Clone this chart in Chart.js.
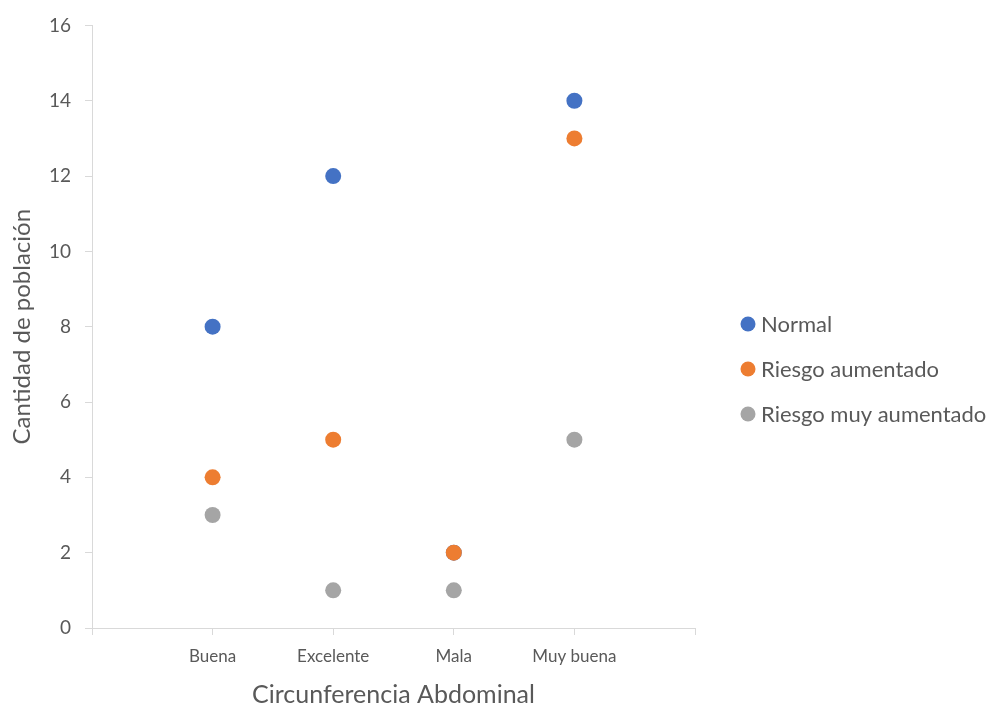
<!DOCTYPE html>
<html>
<head>
<meta charset="utf-8">
<script src="https://cdn.jsdelivr.net/npm/chart.js@4.4.0/dist/chart.umd.min.js"></script>
<style>
html,body{margin:0;padding:0;background:#fff;}
#wrap{position:relative;width:992px;height:707px;}
</style>
</head>
<body>
<div id="wrap"><canvas id="c" width="992" height="707"></canvas></div>
<script>
const categories = ["Buena", "Excelente", "Mala", "Muy buena"];
const seriesNames = ["Normal", "Riesgo aumentado", "Riesgo muy aumentado"];
const normalValues = [8, 12, 2, 14];
const riesgoAumentadoValues = [4, 5, 2, 13];
const riesgoMuyAumentadoValues = [3, 1, 1, 5];
const colors = ["#4472C4", "#ED7D31", "#A5A5A5"];
const yTicks = [0, 2, 4, 6, 8, 10, 12, 14, 16];

const FONT = "Lato, 'Open Sans', sans-serif";
const allValues = [normalValues, riesgoAumentadoValues, riesgoMuyAumentadoValues];

const datasets = allValues.map((vals, i) => ({
  label: seriesNames[i],
  data: vals.map((v, j) => ({x: j + 1, y: v})),
  backgroundColor: colors[i],
  borderColor: colors[i],
  pointRadius: 8,
  pointHoverRadius: 8,
  pointBorderWidth: 0,
  order: 3 - i
}));

const legendPlugin = {
  id: 'customLegend',
  afterDraw(chart) {
    const ctx = chart.ctx;
    ctx.save();
    const rows = [324, 369, 414];
    seriesNames.forEach((name, i) => {
      ctx.beginPath();
      ctx.fillStyle = colors[i];
      ctx.arc(748, rows[i], 7.5, 0, Math.PI * 2);
      ctx.fill();
      ctx.fillStyle = '#595959';
      ctx.font = "22px " + FONT;
      ctx.textBaseline = 'middle';
      ctx.textAlign = 'left';
      ctx.fillText(name, 761, rows[i] + 1);
    });
    ctx.restore();
  }
};

new Chart(document.getElementById('c'), {
  type: 'scatter',
  data: { datasets },
  options: {
    responsive: false,
    animation: false,
    layout: { padding: { left: 0, right: 297, top: 21, bottom: 0 } },
    plugins: { legend: { display: false }, tooltip: { enabled: false } },
    scales: {
      x: {
        type: 'linear',
        min: 0, max: 5,
        afterFit(scale) { scale.height = 79; },
        afterBuildTicks(scale) { scale.ticks = [0,1,2,3,4,5].map(v => ({value: v})); },
        ticks: {
          autoSkip: false,
          maxRotation: 0,
          padding: 11,
          color: '#595959',
          font: { family: FONT, size: 17 },
          callback: (v) => (v >= 1 && v <= categories.length) ? categories[v - 1] : ''
        },
        grid: { drawOnChartArea: false, drawTicks: true, tickLength: 7, color: '#D9D9D9' },
        border: { color: '#D9D9D9', width: 1 },
        title: {
          display: true,
          text: 'Circunferencia Abdominal',
          color: '#595959',
          font: { family: FONT, size: 25, lineHeight: 1 },
          padding: { top: 10, bottom: 0 }
        }
      },
      y: {
        min: 0, max: 16,
        afterFit(scale) { scale.width = 92; },
        afterBuildTicks(scale) { scale.ticks = yTicks.map(v => ({value: v})); },
        ticks: {
          padding: 14,
          color: '#595959',
          font: { family: FONT, size: 19 }
        },
        grid: { drawOnChartArea: false, drawTicks: true, tickLength: 7, color: '#D9D9D9' },
        border: { color: '#D9D9D9', width: 1 },
        title: {
          display: true,
          text: 'Cantidad de población',
          color: '#595959',
          font: { family: FONT, size: 24, lineHeight: 1 },
          padding: { top: 10, bottom: 0 }
        }
      }
    }
  },
  plugins: [legendPlugin]
});
</script>
</body>
</html>
